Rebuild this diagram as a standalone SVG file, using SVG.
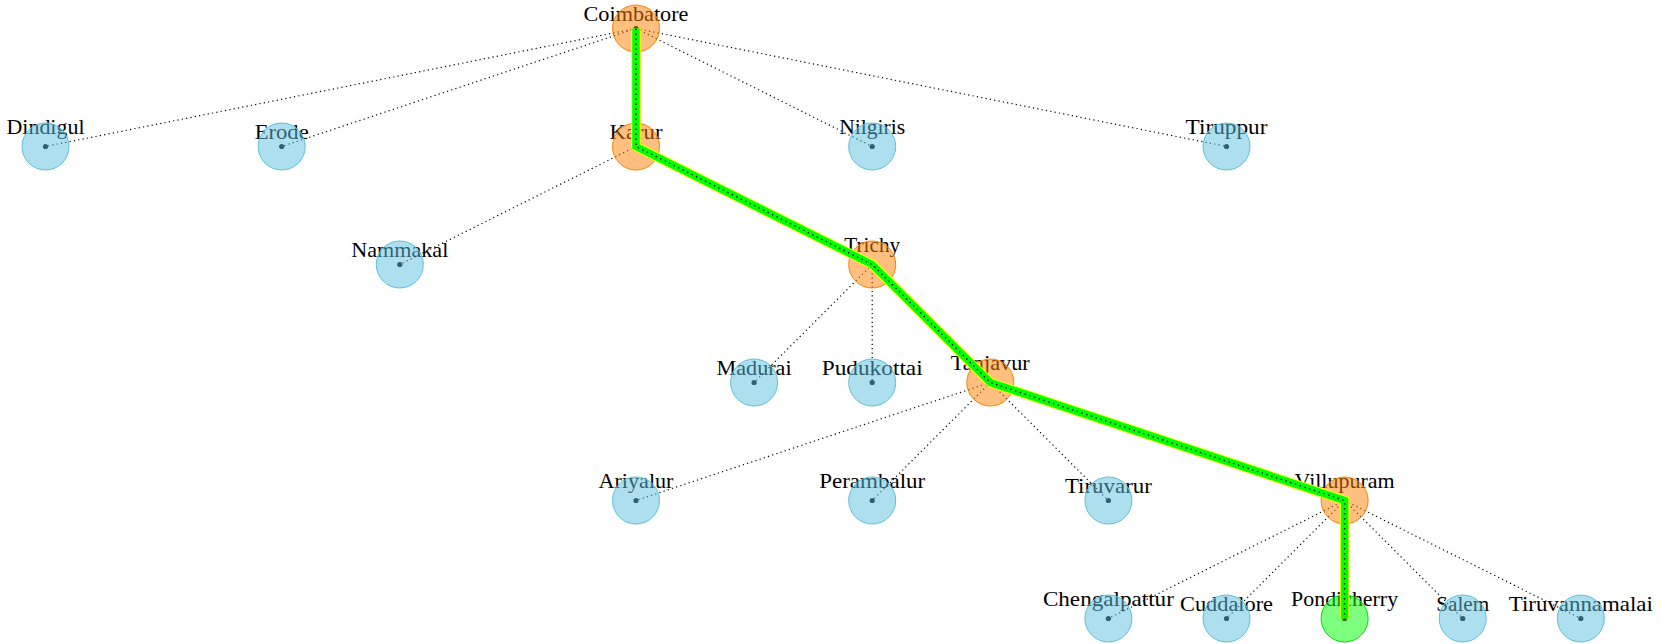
<svg xmlns="http://www.w3.org/2000/svg" width="1661" height="644" viewBox="0 0 1661 644">
<style>
.lbl{font-family:"Liberation Serif","Times New Roman",serif;font-size:21px;fill:#000;text-anchor:middle}
.edge{stroke:#000;stroke-width:1.2;stroke-dasharray:1.2 3.2;fill:none}
.dot{fill:#000}
.blue{fill:#5bc0de;fill-opacity:0.5;stroke:#5bc0de;stroke-width:1}
.orange{fill:#ff7f00;fill-opacity:0.5;stroke:#ff8000;stroke-width:1}
.green{fill:#00ff00;fill-opacity:0.5;stroke:#00e000;stroke-width:1}
.hlY{stroke:#ffff00;stroke-width:9.5;fill:none;stroke-linejoin:miter}
.hlG{stroke:#00ff00;stroke-width:7.5;fill:none;stroke-linejoin:miter}
.hlD{stroke:#000;stroke-width:1.4;stroke-dasharray:1.4 3.6;fill:none}
</style>
<rect width="1661" height="644" fill="#fff"/>
<g id="connectors">
<line class="edge" x1="636" y1="28.5" x2="45.5" y2="146.5"/>
<line class="edge" x1="636" y1="28.5" x2="281.7" y2="146.5"/>
<line class="edge" x1="636" y1="28.5" x2="636" y2="146.5"/>
<line class="edge" x1="636" y1="28.5" x2="872.2" y2="146.5"/>
<line class="edge" x1="636" y1="28.5" x2="1226.5" y2="146.5"/>
<line class="edge" x1="636" y1="146.5" x2="399.8" y2="264.5"/>
<line class="edge" x1="636" y1="146.5" x2="872.2" y2="264.5"/>
<line class="edge" x1="872.2" y1="264.5" x2="754.1" y2="382.5"/>
<line class="edge" x1="872.2" y1="264.5" x2="872.2" y2="382.5"/>
<line class="edge" x1="872.2" y1="264.5" x2="990.3" y2="382.5"/>
<line class="edge" x1="990.3" y1="382.5" x2="636" y2="500.5"/>
<line class="edge" x1="990.3" y1="382.5" x2="872.2" y2="500.5"/>
<line class="edge" x1="990.3" y1="382.5" x2="1108.4" y2="500.5"/>
<line class="edge" x1="990.3" y1="382.5" x2="1344.6" y2="500.5"/>
<line class="edge" x1="1344.6" y1="500.5" x2="1108.4" y2="618.5"/>
<line class="edge" x1="1344.6" y1="500.5" x2="1226.5" y2="618.5"/>
<line class="edge" x1="1344.6" y1="500.5" x2="1344.6" y2="618.5"/>
<line class="edge" x1="1344.6" y1="500.5" x2="1462.7" y2="618.5"/>
<line class="edge" x1="1344.6" y1="500.5" x2="1580.8" y2="618.5"/>
</g>
<g id="n-coimbatore"><text class="lbl" x="636" y="20.7" textLength="105" lengthAdjust="spacingAndGlyphs">Coimbatore</text><circle class="dot" cx="636" cy="28.5" r="2.6"/><circle class="orange" cx="636" cy="28.5" r="23.5"/></g>
<g id="n-dindigul"><text class="lbl" x="45.5" y="134.3" textLength="78" lengthAdjust="spacingAndGlyphs">Dindigul</text><circle class="dot" cx="45.5" cy="146.5" r="2.6"/><circle class="blue" cx="45.5" cy="146.5" r="23.5"/></g>
<g id="n-erode"><text class="lbl" x="281.7" y="138.7" textLength="54" lengthAdjust="spacingAndGlyphs">Erode</text><circle class="dot" cx="281.7" cy="146.5" r="2.6"/><circle class="blue" cx="281.7" cy="146.5" r="23.5"/></g>
<g id="n-karur"><text class="lbl" x="636" y="138.7" textLength="53" lengthAdjust="spacingAndGlyphs">Karur</text><circle class="dot" cx="636" cy="146.5" r="2.6"/><circle class="orange" cx="636" cy="146.5" r="23.5"/></g>
<g id="n-nilgiris"><text class="lbl" x="872.2" y="134.3" textLength="66" lengthAdjust="spacingAndGlyphs">Nilgiris</text><circle class="dot" cx="872.2" cy="146.5" r="2.6"/><circle class="blue" cx="872.2" cy="146.5" r="23.5"/></g>
<g id="n-tiruppur"><text class="lbl" x="1226.5" y="134.3" textLength="82" lengthAdjust="spacingAndGlyphs">Tiruppur</text><circle class="dot" cx="1226.5" cy="146.5" r="2.6"/><circle class="blue" cx="1226.5" cy="146.5" r="23.5"/></g>
<g id="n-nammakal"><text class="lbl" x="399.8" y="256.7" textLength="97" lengthAdjust="spacingAndGlyphs">Nammakal</text><circle class="dot" cx="399.8" cy="264.5" r="2.6"/><circle class="blue" cx="399.8" cy="264.5" r="23.5"/></g>
<g id="n-trichy"><text class="lbl" x="872.2" y="252.3" textLength="56" lengthAdjust="spacingAndGlyphs">Trichy</text><circle class="dot" cx="872.2" cy="264.5" r="2.6"/><circle class="orange" cx="872.2" cy="264.5" r="23.5"/></g>
<g id="n-madurai"><text class="lbl" x="754.1" y="374.7" textLength="75" lengthAdjust="spacingAndGlyphs">Madurai</text><circle class="dot" cx="754.1" cy="382.5" r="2.6"/><circle class="blue" cx="754.1" cy="382.5" r="23.5"/></g>
<g id="n-pudukottai"><text class="lbl" x="872.2" y="374.7" textLength="101" lengthAdjust="spacingAndGlyphs">Pudukottai</text><circle class="dot" cx="872.2" cy="382.5" r="2.6"/><circle class="blue" cx="872.2" cy="382.5" r="23.5"/></g>
<g id="n-tanjavur"><text class="lbl" x="990.3" y="370.3" textLength="79" lengthAdjust="spacingAndGlyphs">Tanjavur</text><circle class="dot" cx="990.3" cy="382.5" r="2.6"/><circle class="orange" cx="990.3" cy="382.5" r="23.5"/></g>
<g id="n-ariyalur"><text class="lbl" x="636" y="488.3" textLength="75" lengthAdjust="spacingAndGlyphs">Ariyalur</text><circle class="dot" cx="636" cy="500.5" r="2.6"/><circle class="blue" cx="636" cy="500.5" r="23.5"/></g>
<g id="n-perambalur"><text class="lbl" x="872.2" y="488.3" textLength="106" lengthAdjust="spacingAndGlyphs">Perambalur</text><circle class="dot" cx="872.2" cy="500.5" r="2.6"/><circle class="blue" cx="872.2" cy="500.5" r="23.5"/></g>
<g id="n-tiruvarur"><text class="lbl" x="1108.4" y="492.7" textLength="87" lengthAdjust="spacingAndGlyphs">Tiruvarur</text><circle class="dot" cx="1108.4" cy="500.5" r="2.6"/><circle class="blue" cx="1108.4" cy="500.5" r="23.5"/></g>
<g id="n-villupuram"><text class="lbl" x="1344.6" y="488.3" textLength="100" lengthAdjust="spacingAndGlyphs">Villupuram</text><circle class="dot" cx="1344.6" cy="500.5" r="2.6"/><circle class="orange" cx="1344.6" cy="500.5" r="23.5"/></g>
<g id="n-chengalpattur"><text class="lbl" x="1108.4" y="606.3" textLength="131" lengthAdjust="spacingAndGlyphs">Chengalpattur</text><circle class="dot" cx="1108.4" cy="618.5" r="2.6"/><circle class="blue" cx="1108.4" cy="618.5" r="23.5"/></g>
<g id="n-cuddalore"><text class="lbl" x="1226.5" y="610.7" textLength="93" lengthAdjust="spacingAndGlyphs">Cuddalore</text><circle class="dot" cx="1226.5" cy="618.5" r="2.6"/><circle class="blue" cx="1226.5" cy="618.5" r="23.5"/></g>
<g id="n-pondicherry"><text class="lbl" x="1344.6" y="606.3" textLength="107" lengthAdjust="spacingAndGlyphs">Pondicherry</text><circle class="dot" cx="1344.6" cy="618.5" r="2.6"/><circle class="green" cx="1344.6" cy="618.5" r="23.5"/></g>
<g id="n-salem"><text class="lbl" x="1462.7" y="610.7" textLength="53" lengthAdjust="spacingAndGlyphs">Salem</text><circle class="dot" cx="1462.7" cy="618.5" r="2.6"/><circle class="blue" cx="1462.7" cy="618.5" r="23.5"/></g>
<g id="n-tiruvannamalai"><text class="lbl" x="1580.8" y="610.7" textLength="144" lengthAdjust="spacingAndGlyphs">Tiruvannamalai</text><circle class="dot" cx="1580.8" cy="618.5" r="2.6"/><circle class="blue" cx="1580.8" cy="618.5" r="23.5"/></g>
<g id="highlight-path">
<path class="hlY" d="M636 28.5 L636 146.5 L872.2 264.5 L990.3 382.5 L1344.6 500.5 L1344.6 618.5"/>
<path class="hlG" d="M636 28.5 L636 146.5 L872.2 264.5 L990.3 382.5 L1344.6 500.5 L1344.6 618.5"/>
<path class="hlD" d="M636 28.5 L636 146.5 L872.2 264.5 L990.3 382.5 L1344.6 500.5 L1344.6 618.5"/>
</g>
</svg>
